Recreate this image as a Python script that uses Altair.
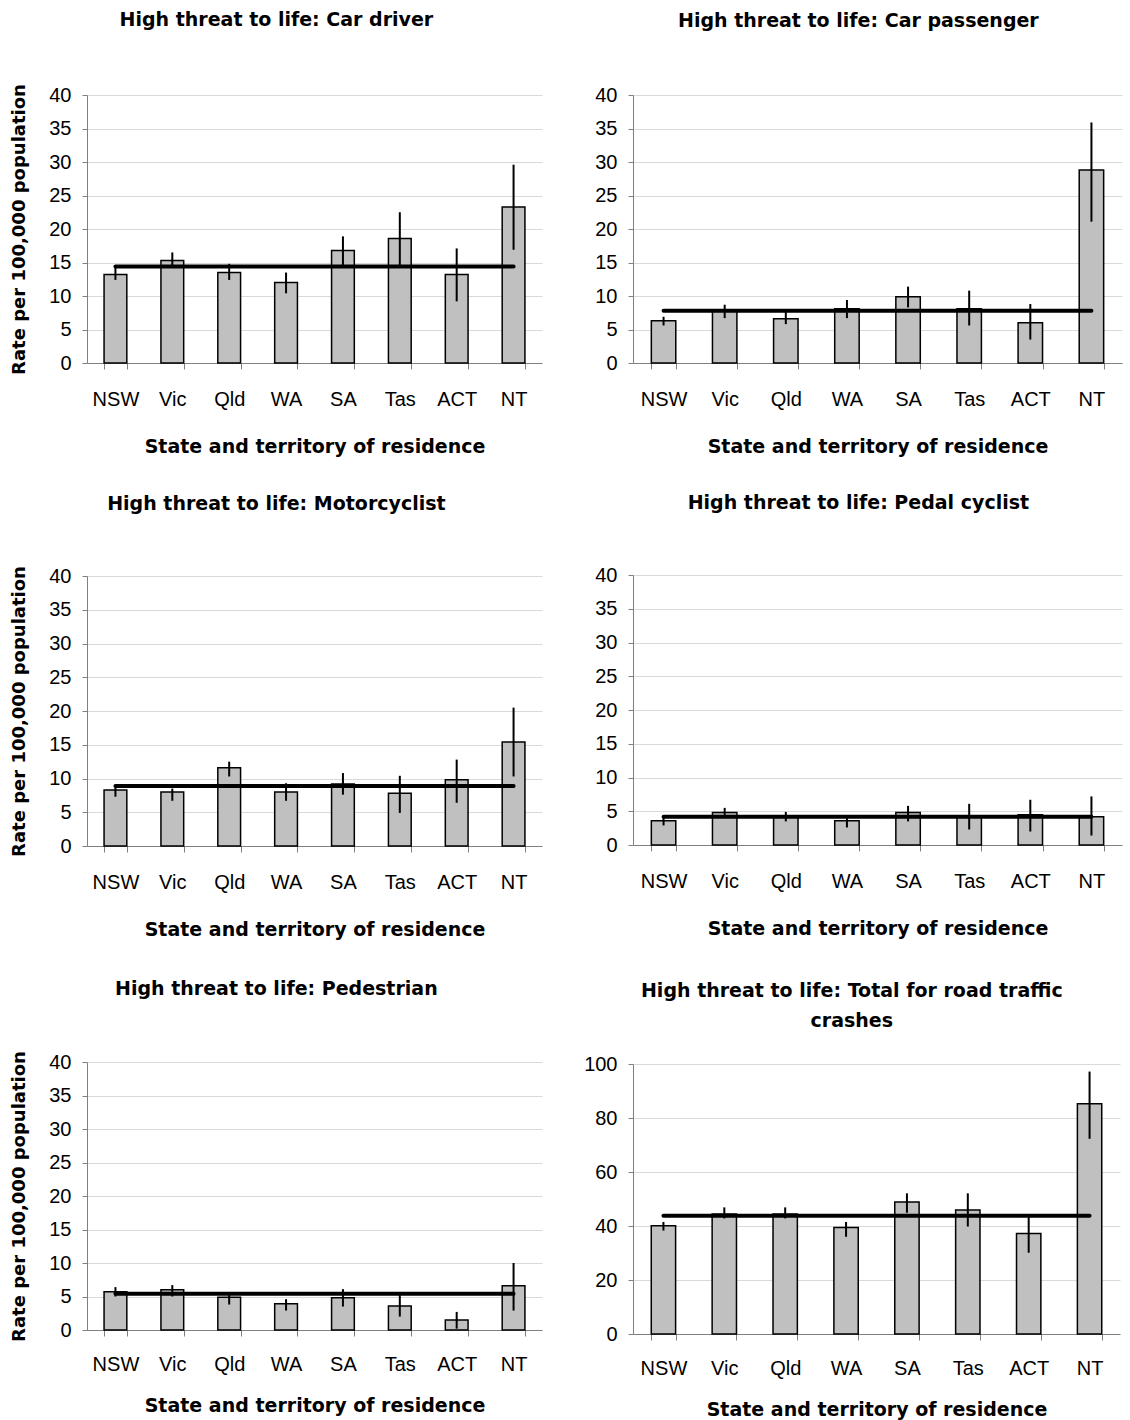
import altair as alt
import pandas as pd

cats = ["NSW", "Vic", "Qld", "WA", "SA", "Tas", "ACT", "NT"]

driver_rate = [13.2, 15.3, 13.5, 12.0, 16.8, 18.6, 13.2, 23.3]
driver_lo = [12.4, 14.3, 12.4, 10.4, 14.5, 14.5, 9.2, 16.9]
driver_hi = [14.2, 16.5, 14.8, 13.5, 18.9, 22.5, 17.1, 29.6]
driver_mean = 14.4

passenger_rate = [6.3, 7.8, 6.6, 8.1, 9.9, 8.1, 6.0, 28.8]
passenger_lo = [5.6, 6.7, 5.8, 6.7, 8.3, 5.6, 3.5, 21.1]
passenger_hi = [6.9, 8.7, 7.6, 9.4, 11.4, 10.8, 8.8, 35.9]
passenger_mean = 7.8

moto_rate = [8.3, 8.0, 11.6, 8.0, 9.2, 7.8, 9.8, 15.4]
moto_lo = [7.3, 6.7, 10.3, 6.7, 7.6, 4.9, 6.4, 10.3]
moto_hi = [8.9, 8.5, 12.5, 9.3, 10.8, 10.4, 12.8, 20.5]
moto_mean = 8.9

pedal_rate = [3.6, 4.8, 4.2, 3.6, 4.8, 4.2, 4.5, 4.2]
pedal_lo = [2.9, 4.1, 3.5, 2.6, 3.5, 2.3, 2.0, 1.4]
pedal_hi = [4.1, 5.5, 4.9, 4.1, 5.8, 6.1, 6.7, 7.2]
pedal_mean = 4.2

ped_rate = [5.7, 6.0, 4.9, 3.9, 4.8, 3.6, 1.5, 6.6]
ped_lo = [5.0, 5.0, 3.8, 2.9, 3.5, 2.0, 0.2, 2.9]
ped_hi = [6.4, 6.7, 5.5, 4.6, 6.1, 5.5, 2.7, 10.0]
ped_mean = 5.4

total_rate = [40.1, 44.4, 44.4, 39.4, 48.9, 45.9, 37.2, 85.3]
total_lo = [38.3, 42.8, 42.8, 36.0, 44.9, 39.8, 30.1, 72.3]
total_hi = [41.5, 46.9, 46.9, 41.5, 52.1, 52.1, 43.7, 97.2]
total_mean = 43.8

FONT = "Liberation Sans"
TFONT = "DejaVu Sans"
YTITLE = "Rate per 100,000 population"
XTITLE = "State and territory of residence"


def panel(title, rate, lo, hi, mean, ymax, ystep, width, height, show_ytitle, toffset,
          lpad=20, tpad=28):
    df = pd.DataFrame({"state": cats, "rate": rate, "lo": lo, "hi": hi,
                       "mean": [mean] * len(cats)})
    xaxis = alt.Axis(title=XTITLE, labelAngle=0, tickBand="extent", tickSize=6,
                     labelPadding=lpad, titlePadding=tpad, domainColor="#808080",
                     tickColor="#808080", grid=False, titleFontSize=19)
    xscale = alt.Scale(paddingInner=0.6, paddingOuter=0.3)
    yaxis_kw = dict(values=list(range(0, ymax + 1, ystep)), tickSize=5, labelPadding=11,
                    domainColor="#808080", tickColor="#808080", gridColor="#d9d9d9",
                    grid=True, titlePadding=20, titleFontSize=18)
    if show_ytitle:
        yaxis = alt.Axis(title=YTITLE, **yaxis_kw)
    else:
        yaxis = alt.Axis(title=None, **yaxis_kw)
    yscale = alt.Scale(domain=[0, ymax], nice=False)
    x = alt.X("state:N", sort=cats, scale=xscale, axis=xaxis)
    base = alt.Chart(df)
    bars = base.mark_bar(fill="#C0C0C0", stroke="black", strokeWidth=1.5).encode(
        x=x, y=alt.Y("rate:Q", scale=yscale, axis=yaxis))
    err = base.mark_rule(color="black", strokeWidth=2).encode(
        x=x, y=alt.Y("lo:Q", scale=yscale, axis=yaxis), y2="hi:Q")
    mline = base.mark_line(color="black", strokeWidth=4, strokeCap="round").encode(
        x=x, y=alt.Y("mean:Q", scale=yscale, axis=yaxis))
    return alt.layer(bars, err, mline).properties(
        width=width, height=height,
        title=alt.TitleParams(text=title, fontSize=19, font=TFONT, fontWeight="bold",
                              anchor="middle", frame="bounds", offset=toffset,
                              lineHeight=30))


p1 = panel("High threat to life: Car driver", driver_rate, driver_lo, driver_hi,
           driver_mean, 40, 5, 455, 268, True, 54)
p2 = panel("High threat to life: Car passenger", passenger_rate, passenger_lo,
           passenger_hi, passenger_mean, 40, 5, 489, 268, False, 54)
p3 = panel("High threat to life: Motorcyclist", moto_rate, moto_lo, moto_hi,
           moto_mean, 40, 5, 455, 270, True, 52)
p4 = panel("High threat to life: Pedal cyclist", pedal_rate, pedal_lo, pedal_hi,
           pedal_mean, 40, 5, 489, 270, False, 52)
p5 = panel("High threat to life: Pedestrian", ped_rate, ped_lo, ped_hi,
           ped_mean, 40, 5, 455, 268, True, 52, lpad=18, tpad=22)
p6 = panel(["High threat to life: Total for road traffic", "crashes"], total_rate,
           total_lo, total_hi, total_mean, 100, 20, 487, 270, False, 23, lpad=18, tpad=22)

left = alt.vconcat(alt.vconcat(p1, p3, spacing=38), p5, spacing=40)
right = alt.vconcat(alt.vconcat(p2, p4, spacing=38), p6, spacing=44)

chart = alt.hconcat(left, right, spacing=41).properties(
    padding={"left": 10, "top": 10, "right": 5, "bottom": 5}
).configure(font=FONT).configure_view(stroke=None).configure_axis(
    labelFont=FONT, labelFontSize=20, labelColor="black",
    titleFont=TFONT, titleFontWeight="bold", titleColor="black"
)

chart.save("out.html", embed_options={"renderer": "svg", "actions": False})
